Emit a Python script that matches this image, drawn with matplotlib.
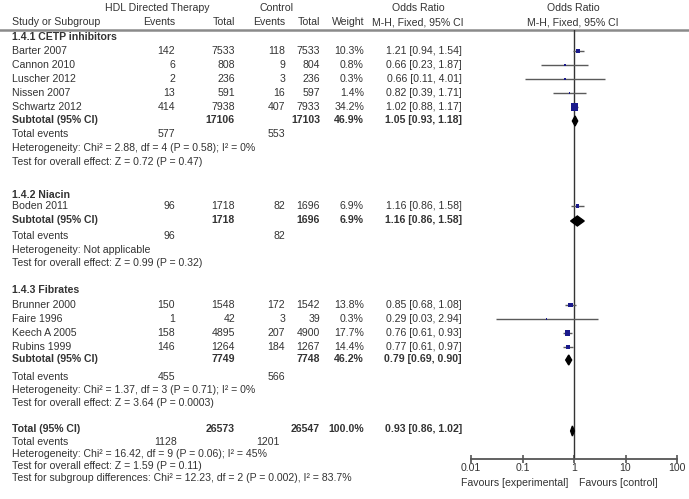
import numpy as np
import matplotlib
matplotlib.use('Agg')
import matplotlib.pyplot as plt
from matplotlib.ticker import NullLocator

# --- данные метаанализа ---
studies = ['Barter 2007', 'Cannon 2010', 'Luscher 2012', 'Nissen 2007', 'Schwartz 2012',
           'Boden 2011',
           'Brunner 2000', 'Faire 1996', 'Keech A 2005', 'Rubins 1999']
exp_events = [142, 6, 2, 13, 414, 96, 150, 1, 158, 146]
exp_total = [7533, 808, 236, 591, 7938, 1718, 1548, 42, 4895, 1264]
ctl_events = [118, 9, 3, 16, 407, 82, 172, 3, 207, 184]
ctl_total = [7533, 804, 236, 597, 7933, 1696, 1542, 39, 4900, 1267]
weights = [10.3, 0.8, 0.3, 1.4, 34.2, 6.9, 13.8, 0.3, 17.7, 14.4]
or_est = [1.21, 0.66, 0.66, 0.82, 1.02, 1.16, 0.85, 0.29, 0.76, 0.77]
or_lo = [0.94, 0.23, 0.11, 0.39, 0.88, 0.86, 0.68, 0.03, 0.61, 0.61]
or_hi = [1.54, 1.87, 4.01, 1.71, 1.17, 1.58, 1.08, 2.94, 0.93, 0.97]

groups = ['1.4.1 CETP inhibitors', '1.4.2 Niacin', '1.4.3 Fibrates']
sub_exp_total = [17106, 1718, 7749]
sub_ctl_total = [17103, 1696, 7748]
sub_exp_events = [577, 96, 455]
sub_ctl_events = [553, 82, 566]
sub_weight = [46.9, 6.9, 46.2]
sub_or = [1.05, 1.16, 0.79]
sub_lo = [0.93, 0.86, 0.69]
sub_hi = [1.18, 1.58, 0.90]
sub_het = ['Heterogeneity: Chi\u00b2 = 2.88, df = 4 (P = 0.58); I\u00b2 = 0%',
           'Heterogeneity: Not applicable',
           'Heterogeneity: Chi\u00b2 = 1.37, df = 3 (P = 0.71); I\u00b2 = 0%']
sub_z = ['Test for overall effect: Z = 0.72 (P = 0.47)',
         'Test for overall effect: Z = 0.99 (P = 0.32)',
         'Test for overall effect: Z = 3.64 (P = 0.0003)']

total_exp, total_ctl = 26573, 26547
total_exp_ev, total_ctl_ev = 1128, 1201
total_or, total_lo, total_hi = 0.93, 0.86, 1.02
total_het = 'Heterogeneity: Chi\u00b2 = 16.42, df = 9 (P = 0.06); I\u00b2 = 45%'
total_z = 'Test for overall effect: Z = 1.59 (P = 0.11)'
subgroup_test = 'Test for subgroup differences: Chi\u00b2 = 12.23, df = 2 (P = 0.002), I\u00b2 = 83.7%'

axis_ticks = [0.01, 0.1, 1, 10, 100]
axis_labels = ['0.01', '0.1', '1', '10', '100']

# --- раскладка строк (пиксели сверху) ---
W, H = 689, 499
head_y = [37, 195, 290]
study_y = [51, 65, 79, 93, 107, 206, 305, 319, 333, 347]
sub_y = [120, 220, 359]
tev_y = [134, 236, 377]
het_y = [148, 250, 390]
z_y = [162, 263, 403]
tot_y, tot_ev_y, tot_het_y, tot_z_y, sg_y = 429, 442, 454, 466, 478

# колонки
x_name = 12
x_eev, x_etot, x_cev, x_ctot, x_w, x_or = 175, 235, 285, 320, 364, 462
x_orc = 418
x_one = 573

plt.rcParams['font.family'] = ['Liberation Sans', 'DejaVu Sans']
FS = 7.6
TXT = '#333333'

fig = plt.figure(figsize=(W / 100, H / 100), dpi=100)
bg = fig.add_axes([0, 0, 1, 1])
bg.set_xlim(0, W)
bg.set_ylim(H, 0)
bg.axis('off')


def t(x, y, s, ha='left', bold=False):
    bg.text(x, y, s, ha=ha, va='center', fontsize=FS, color=TXT,
            fontweight='bold' if bold else 'normal')


# шапка
t(157, 8, 'HDL Directed Therapy', 'center')
t(277, 8, 'Control', 'center')
t(x_orc, 8, 'Odds Ratio', 'center')
t(x_one, 8, 'Odds Ratio', 'center')
t(x_name, 22, 'Study or Subgroup')
t(x_eev, 22, 'Events', 'right')
t(x_etot, 22, 'Total', 'right')
t(x_cev, 22, 'Events', 'right')
t(x_ctot, 22, 'Total', 'right')
t(x_w, 22, 'Weight', 'right')
t(x_orc, 22, 'M-H, Fixed, 95% CI', 'center')
t(x_one, 22, 'M-H, Fixed, 95% CI', 'center')
bg.plot([0, W], [30, 30], color='#8a8a8a', lw=1.8)

# строки исследований
for i, name in enumerate(studies):
    y = study_y[i]
    t(x_name, y, name)
    t(x_eev, y, str(exp_events[i]), 'right')
    t(x_etot, y, str(exp_total[i]), 'right')
    t(x_cev, y, str(ctl_events[i]), 'right')
    t(x_ctot, y, str(ctl_total[i]), 'right')
    t(x_w, y, f'{weights[i]:.1f}%', 'right')
    t(x_or, y, f'{or_est[i]:.2f} [{or_lo[i]:.2f}, {or_hi[i]:.2f}]', 'right')

# подгруппы
for g, name in enumerate(groups):
    t(x_name, head_y[g], name, bold=True)
    y = sub_y[g]
    t(x_name, y, 'Subtotal (95% CI)', bold=True)
    t(x_etot, y, str(sub_exp_total[g]), 'right', True)
    t(x_ctot, y, str(sub_ctl_total[g]), 'right', True)
    t(x_w, y, f'{sub_weight[g]:.1f}%', 'right', True)
    t(x_or, y, f'{sub_or[g]:.2f} [{sub_lo[g]:.2f}, {sub_hi[g]:.2f}]', 'right', True)
    t(x_name, tev_y[g], 'Total events')
    t(x_eev, tev_y[g], str(sub_exp_events[g]), 'right')
    t(x_cev, tev_y[g], str(sub_ctl_events[g]), 'right')
    t(x_name, het_y[g], sub_het[g])
    t(x_name, z_y[g], sub_z[g])

# итог
t(x_name, tot_y, 'Total (95% CI)', bold=True)
t(x_etot, tot_y, str(total_exp), 'right', True)
t(x_ctot, tot_y, str(total_ctl), 'right', True)
t(x_w, tot_y, '100.0%', 'right', True)
t(x_or, tot_y, f'{total_or:.2f} [{total_lo:.2f}, {total_hi:.2f}]', 'right', True)
t(x_name, tot_ev_y, 'Total events')
t(177, tot_ev_y, str(total_exp_ev), 'right')
t(280, tot_ev_y, str(total_ctl_ev), 'right')
t(x_name, tot_het_y, total_het)
t(x_name, tot_z_y, total_z)
t(x_name, sg_y, subgroup_test)

t(568, 483, 'Favours [experimental]', 'right')
t(579, 483, 'Favours [control]')

# --- лесной график ---
x0, x1, ytop, ybot = 471, 677, 30, 459
fx = fig.add_axes([x0 / W, (H - ybot) / H, (x1 - x0) / W, (ybot - ytop) / H])
fx.set_xscale('log')
fx.set_xlim(0.01, 100)
fx.set_ylim(ybot, ytop)
fx.patch.set_visible(False)
for side in ['top', 'left', 'right']:
    fx.spines[side].set_visible(False)
fx.spines['bottom'].set_color('#555555')
fx.spines['bottom'].set_linewidth(1.3)
fx.set_yticks([])
fx.set_xticks(axis_ticks)
fx.set_xticklabels(axis_labels)
fx.xaxis.set_minor_locator(NullLocator())
fx.tick_params(axis='x', direction='inout', length=6, width=1.2, color='#555555',
               labelsize=FS, labelcolor=TXT, pad=0)

fx.axvline(1, color='#333333', lw=1)

fx.hlines(study_y, or_lo, or_hi, color='#5a5a5a', lw=1, clip_on=False)
side_px = np.maximum(1.2 * np.sqrt(weights), 1.6)
fx.scatter(or_est, study_y, marker='s', s=(side_px * 0.72) ** 2,
           color='#1a1a8c', zorder=3, clip_on=False, linewidths=0)


def diamond(est, lo, hi, y, half=5):
    fx.fill([lo, est, hi, est], [y, y - half, y, y + half], color='black', zorder=4)


for g in range(len(groups)):
    diamond(sub_or[g], sub_lo[g], sub_hi[g], sub_y[g] + 1)
diamond(total_or, total_lo, total_hi, tot_y + 2)

fig.savefig('out.png', dpi=100)
